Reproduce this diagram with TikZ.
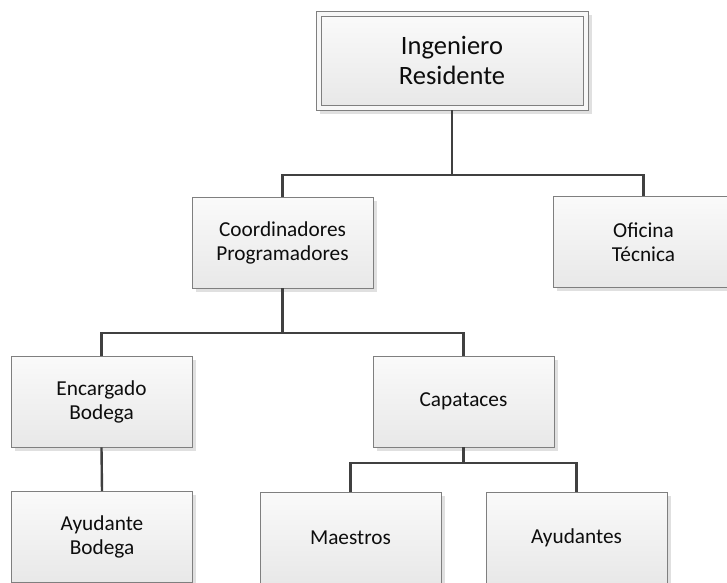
\documentclass[tikz,border=0pt]{standalone}
\usepackage{fontspec}
\setmainfont{Carlito}
\usetikzlibrary{shadows}
\definecolor{boxline}{HTML}{7F7F7F}
\definecolor{connline}{HTML}{404040}
\definecolor{txt}{HTML}{0D0D0D}
\tikzset{
  orgbox/.style={draw=boxline, line width=0.9pt, rectangle,
    top color=white!98!black, bottom color=black!9,
    minimum width=181pt, minimum height=91pt, inner sep=0pt,
    align=center, text=txt, font=\fontsize{21.3}{24}\selectfont,
    drop shadow={shadow xshift=3.5pt, shadow yshift=-3.5pt, fill=black!12, opacity=1}},
  topouter/.style={draw=boxline, line width=0.9pt, rectangle, fill=white!97!black,
    minimum width=272pt, minimum height=99pt, inner sep=0pt,
    drop shadow={shadow xshift=3.5pt, shadow yshift=-3.5pt, fill=black!12, opacity=1}},
  topinner/.style={draw=boxline, line width=0.9pt, rectangle,
    top color=white!98!black, bottom color=black!9,
    minimum width=262pt, minimum height=89pt, inner sep=0pt,
    align=center, text=txt, font=\fontsize{26.5}{30}\selectfont},
  conn/.style={draw=connline, line width=2.4pt}
}
\begin{document}
\begin{tikzpicture}[x=1pt,y=-1pt]
\useasboundingbox (0,0) rectangle (727,582);
\clip (0,0) rectangle (727,582);
\fill[white] (0,0) rectangle (727,582);
% nodes
\node[topouter] (topo) at (452,60.5) {};
\node[topinner] (top) at (452,60.5) {Ingeniero\\Residente};
\node[orgbox] (coord) at (282.5,242.5) {Coordinadores\\Programadores};
\node[orgbox] (ofi) at (643.5,242) {Oficina\\Técnica};
\node[orgbox] (enc) at (101.5,401.5) {Encargado\\Bodega};
\node[orgbox] (cap) at (463.5,401.5) {Capataces};
\node[orgbox] (ayb) at (102,537) {Ayudante\\Bodega};
\node[orgbox] (mae) at (350.5,537.5) {Maestros};
\node[orgbox] (ayu) at (576.5,537.5) {Ayudantes};
% connectors
\coordinate (j1) at (452,175);
\coordinate (j2) at (282.5,333);
\coordinate (j3) at (463.5,463);
\draw[conn] (topo.south) -- (j1);
\draw[conn] (j1) -| (coord.north);
\draw[conn] (j1) -| (ofi.north);
\draw[conn] (coord.south) -- (j2);
\draw[conn] (j2) -| (enc.north);
\draw[conn] (j2) -| (cap.north);
\draw[conn] (enc.south) -- (ayb.north);
\draw[conn] (cap.south) -- (j3);
\draw[conn] (j3) -| (mae.north);
\draw[conn] (j3) -| (ayu.north);
\end{tikzpicture}
\end{document}
